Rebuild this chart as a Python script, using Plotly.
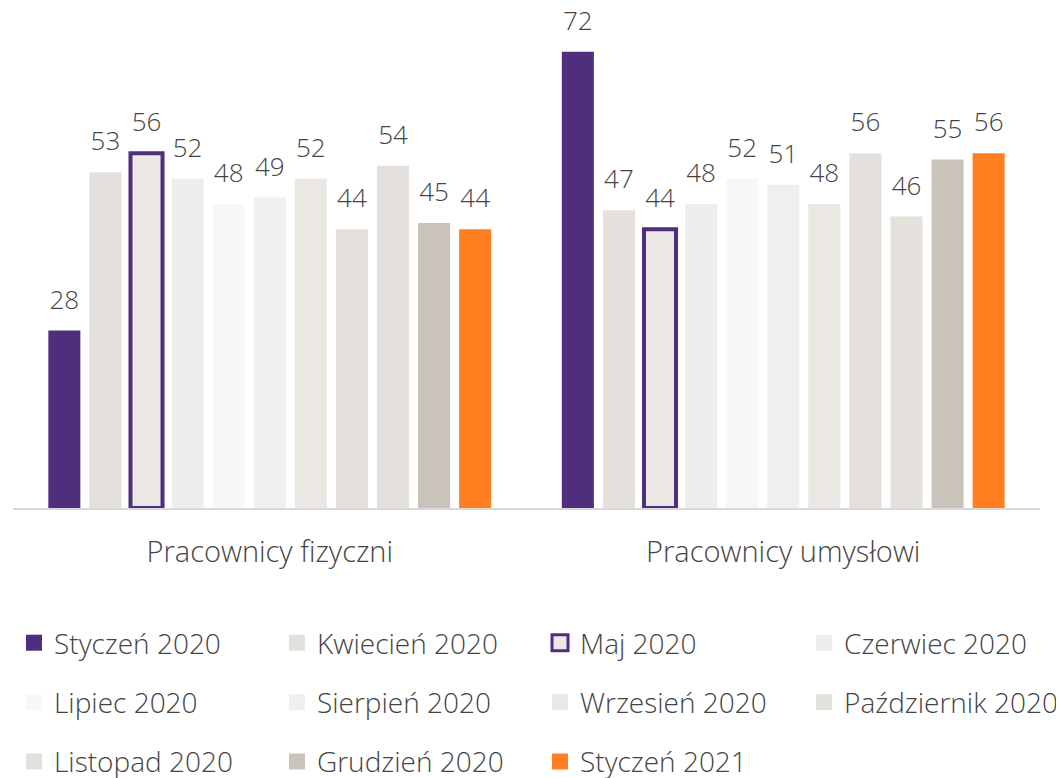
import plotly.graph_objects as go

categories = ["Pracownicy fizyczni", "Pracownicy umysłowi"]

series_names = [
    "Styczeń 2020", "Kwiecień 2020", "Maj 2020", "Czerwiec 2020",
    "Lipiec 2020", "Sierpień 2020", "Wrzesień 2020", "Październik 2020",
    "Listopad 2020", "Grudzień 2020", "Styczeń 2021",
]

fizyczni = [28, 53, 56, 52, 48, 49, 52, 44, 54, 45, 44]
umyslowi = [72, 47, 44, 48, 52, 51, 48, 56, 46, 55, 56]

colors = [
    "#4f2e7c", "#e4e1dc", "#ece8e5", "#f0eeec",
    "#f8f7f6", "#f0efed", "#ebe7e3", "#e4e1dc",
    "#e4e1dc", "#cac3bc", "#ff7f20",
]

PURPLE = "#4f2e7c"
TEXT = "#444444"
FONT = "Open Sans"
GAP = 0.12

# legend laid out as 4 columns, series go row by row
legend_ids = ["legend", "legend2", "legend3", "legend4"]

fig = go.Figure()

for i, name in enumerate(series_names):
    outlined = name == "Maj 2020"
    vals = [fizyczni[i], umyslowi[i]]
    fig.add_trace(go.Bar(
        x=categories,
        y=vals,
        name=name,
        legendgroup=name,
        marker=dict(color=colors[i],
                    line=dict(color=PURPLE, width=4) if outlined else dict(width=0)),
        showlegend=False,
    ))
    # value labels: grouped scatter text so the gap above the bar can be set
    fig.add_trace(go.Scatter(
        x=categories,
        y=vals,
        mode="markers+text",
        text=vals,
        textposition="top center",
        textfont=dict(family=FONT, size=26, color=TEXT, weight=300),
        marker=dict(size=23, color="rgba(0,0,0,0)"),
        cliponaxis=False,
        showlegend=False,
        legendgroup=name,
        hoverinfo="skip",
    ))
    # legend proxy with a bigger square icon (on a hidden overlay axis)
    fig.add_trace(go.Scatter(
        x=[None], y=[None],
        xaxis="x2", yaxis="y2",
        mode="markers",
        name=name,
        legendgroup=name,
        marker=dict(symbol="square", size=16, color=colors[i],
                    line=dict(color=PURPLE, width=3) if outlined else dict(width=0)),
        legend=legend_ids[i % 4],
        hoverinfo="skip",
    ))

leg_common = dict(
    orientation="v",
    xref="container",
    yref="container",
    xanchor="left",
    yanchor="top",
    y=0.2078,
    tracegroupgap=20,
    font=dict(family=FONT, size=28, color=TEXT, weight=300),
    bgcolor="rgba(0,0,0,0)",
)

fig.update_layout(
    width=1056,
    height=770,
    margin=dict(l=5, r=24, t=2, b=270, autoexpand=False),
    plot_bgcolor="white",
    paper_bgcolor="white",
    barmode="group",
    bargap=GAP,
    bargroupgap=0.22,
    scattermode="group",
    scattergap=GAP,
    showlegend=True,
    legend=dict(leg_common, x=0.0057),
    legend2=dict(leg_common, x=0.2547),
    legend3=dict(leg_common, x=0.5038),
    legend4=dict(leg_common, x=0.7538),
    xaxis=dict(
        showline=True,
        linecolor="#d9d9d9",
        linewidth=2,
        showgrid=False,
        ticks="outside",
        ticklen=0,
        ticklabelstandoff=17,
        tickfont=dict(family=FONT, size=29, color=TEXT, weight=300),
    ),
    yaxis=dict(
        range=[0, 78.6],
        visible=False,
        showgrid=False,
        zeroline=False,
    ),
    xaxis2=dict(overlaying="x", visible=False),
    yaxis2=dict(overlaying="y", visible=False),
)

fig.write_html("out.html")
